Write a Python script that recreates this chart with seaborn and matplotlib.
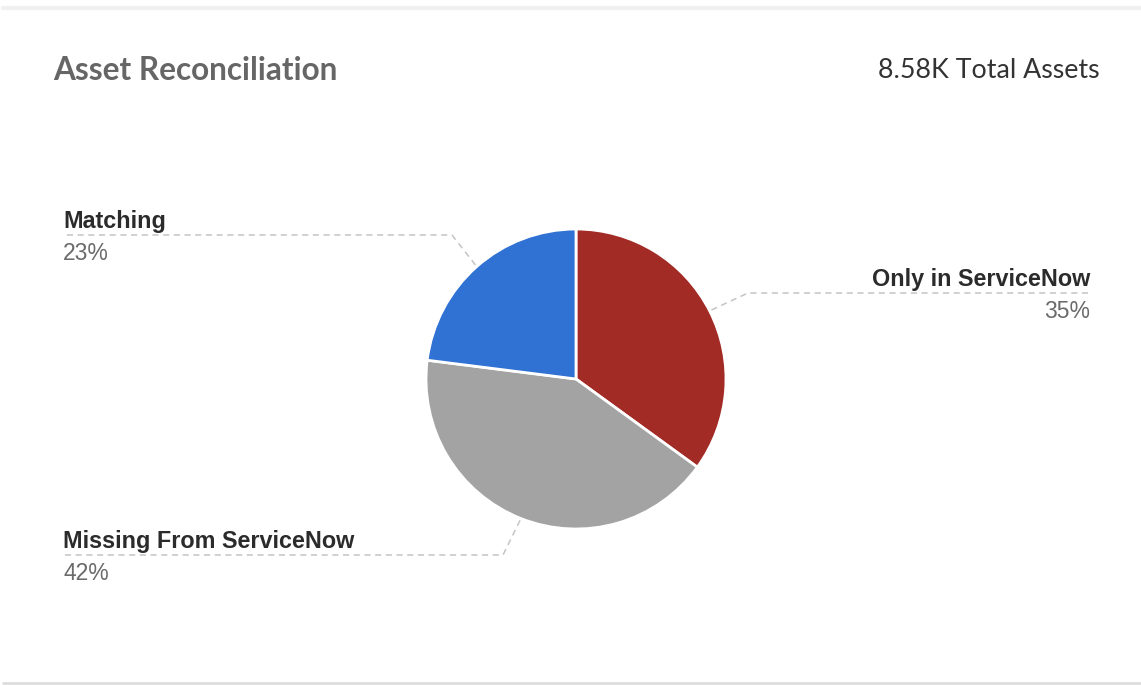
import matplotlib
matplotlib.use("Agg")
import matplotlib.pyplot as plt
import seaborn as sns
import numpy as np
from matplotlib.lines import Line2D

# ---- data ----
categories = ["Only in ServiceNow", "Missing From ServiceNow", "Matching"]
shares = [35, 42, 23]
colors = ["#a32b26", "#a3a3a3", "#3071d4"]
title = "Asset Reconciliation"
total_label = "8.58K Total Assets"

sns.set_theme(style="white")
plt.rcParams["font.family"] = ["Liberation Sans", "DejaVu Sans"]

W, H = 1141, 685
fig = plt.figure(figsize=(W / 100, H / 100), dpi=100)
ax = fig.add_axes([0, 0, 1, 1])
ax.set_xlim(0, W)
ax.set_ylim(0, H)
ax.set_aspect("equal")
ax.axis("off")

cx, cy, R = 576, H - 379, 150
wedges, _ = ax.pie(shares, colors=colors, startangle=90, counterclock=False,
                   center=(cx, cy), radius=R, frame=True,
                   wedgeprops=dict(edgecolor="white", linewidth=2))
ax.set_xlim(0, W)
ax.set_ylim(0, H)
ax.axis("off")

# label layout (pixel coords, y from top): elbow, line end x, alignment
layout = {
    "Only in ServiceNow": dict(elbow=(748, 293), end=1090, ha="right"),
    "Missing From ServiceNow": dict(elbow=(503, 555), end=63, ha="left"),
    "Matching": dict(elbow=(452, 235), end=63, ha="left"),
}

lc = "#c4c4c4"
for w, cat, s in zip(wedges, categories, shares):
    ang = np.deg2rad((w.theta1 + w.theta2) / 2)
    x0 = cx + (R + 2) * np.cos(ang)
    y0 = cy + (R + 2) * np.sin(ang)
    L = layout[cat]
    ex, ey = L["elbow"][0], H - L["elbow"][1]
    ax.plot([x0, ex, L["end"]], [y0, ey, ey], color=lc, lw=1.1,
            linestyle=(0, (4, 3)), solid_capstyle="butt")
    ax.text(L["end"], ey + 7, cat, ha=L["ha"], va="baseline",
            fontsize=16.8, fontweight="bold", color="#2b2b2b")
    ax.text(L["end"], ey - 25, f"{s}%", ha=L["ha"], va="baseline",
            fontsize=16.5, color="#6b6b6b")

# header
fig.text(53 / W, 1 - 70 / H, title, ha="left", va="center", fontsize=22.7,
         fontweight="bold", color="#666666", family=["Lato", "DejaVu Sans"])
fig.text(1100 / W, 1 - 70 / H, total_label, ha="right", va="center",
         fontsize=19.3, color="#333333", family=["Lato", "DejaVu Sans"])

# card borders
fig.add_artist(Line2D([3 / W, 1], [1 - 8 / H, 1 - 8 / H], color="#f0f0f0", lw=3,
                      transform=fig.transFigure))
fig.add_artist(Line2D([3 / W, 1], [1 - 683 / H, 1 - 683 / H], color="#dddddd",
                      lw=2, transform=fig.transFigure))

fig.savefig("out.png", dpi=100)
